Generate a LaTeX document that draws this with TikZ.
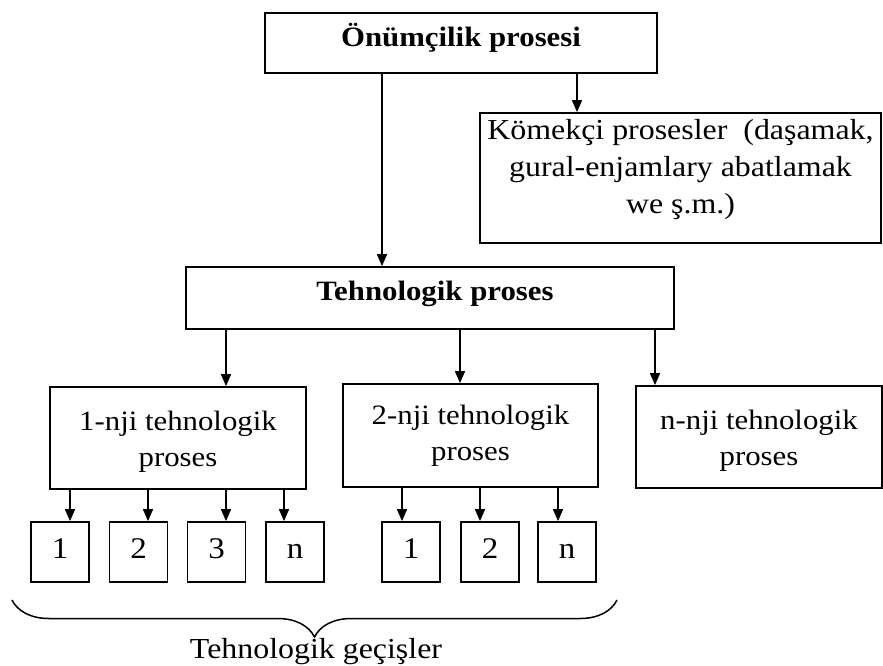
\documentclass[tikz,border=0pt]{standalone}
\usepackage{fontspec}
\setmainfont{Liberation Serif}[FakeStretch=1.1]
\usetikzlibrary{arrows.meta,decorations.pathreplacing}
\tikzset{
  box/.style={draw, line width=1.8pt, rectangle, inner sep=0pt, align=center,
    font=\fontsize{28}{36}\selectfont},
  boldbox/.style={box, font=\fontsize{28}{34}\selectfont\bfseries},
  small/.style={box, minimum width=58pt, minimum height=60pt,
    font=\fontsize{30}{34}\selectfont, text height=21pt, text depth=9pt},
  arr/.style={line width=1.6pt, -{Triangle[length=12pt,width=10pt]}},
  bracestyle/.style={line width=1.5pt, decorate, decoration={brace, mirror, amplitude=37pt}}
}
\newcommand{\dn}[1]{\rule[-#1]{0pt}{1pt}}
\newcommand{\up}[1]{\rule{0pt}{#1}}
\begin{document}
\begin{tikzpicture}[x=1pt,y=-1pt]
\useasboundingbox (0,0) rectangle (883,665);
% main boxes
\node[boldbox, minimum width=392pt, minimum height=60pt] (top) at (461,43) {Önümçilik prosesi\dn{17pt}};
\node[box, minimum width=401pt, minimum height=130pt, font=\fontsize{29}{37}\selectfont] (aux) at (680.5,178)
  {Kömekçi prosesler\ \ (daşamak,\\ gural-enjamlary abatlamak\\ we ş.m.)\dn{23pt}};
\node[boldbox, minimum width=488pt, minimum height=62pt] (tech) at (430,298) {\hspace*{10pt}Tehnologik proses\dn{15pt}};
\node[box, minimum width=256pt, minimum height=102pt] (p1) at (178,438) {\up{27pt}1-nji tehnologik\\ proses};
\node[box, minimum width=255pt, minimum height=103pt] (p2) at (470.5,435.5) {2-nji tehnologik\\ proses};
\node[box, minimum width=246pt, minimum height=102pt] (pn) at (759,437) {\up{27pt}n-nji tehnologik\\ proses};
% small boxes
\node[small] (a1) at (60,552) {1};
\node[small] (a2) at (138.5,552) {2};
\node[small] (a3) at (216.5,552) {3};
\node[small] (an) at (295,552) {n};
\node[small] (b1) at (411,552) {1};
\node[small] (b2) at (490,552) {2};
\node[small] (bn) at (567,552) {n};
% column coordinates
\coordinate (c1) at (382,0);
\coordinate (c2) at (577,0);
\coordinate (d1) at (226,0);
\coordinate (d2) at (460,0);
\coordinate (d3) at (655,0);
\coordinate (e1) at (70,0);
\coordinate (e2) at (148,0);
\coordinate (e3) at (226,0);
\coordinate (e4) at (284,0);
\coordinate (f1) at (402,0);
\coordinate (f2) at (480,0);
\coordinate (f3) at (558,0);
% connectors
\draw[arr] (top.south -| c1) -- (tech.north -| c1);
\draw[arr] (top.south -| c2) -- (aux.north -| c2);
\draw[arr] (tech.south -| d1) -- (p1.north -| d1);
\draw[arr] (tech.south -| d2) -- (p2.north -| d2);
\draw[arr] (tech.south -| d3) -- (pn.north -| d3);
\draw[arr] (p1.south -| e1) -- (a1.north -| e1);
\draw[arr] (p1.south -| e2) -- (a2.north -| e2);
\draw[arr] (p1.south -| e3) -- (a3.north -| e3);
\draw[arr] (p1.south -| e4) -- (an.north -| e4);
\draw[arr] (p2.south -| f1) -- (b1.north -| f1);
\draw[arr] (p2.south -| f2) -- (b2.north -| f2);
\draw[arr] (p2.south -| f3) -- (bn.north -| f3);
% brace
\coordinate (bl) at (12,600);
\coordinate (br) at (617,600);
\draw[bracestyle] (bl) -- (br);
\node[anchor=base, font=\fontsize{29}{34}\selectfont, inner sep=0pt] (lbl) at (316,658) {Tehnologik geçişler};
\end{tikzpicture}
\end{document}
